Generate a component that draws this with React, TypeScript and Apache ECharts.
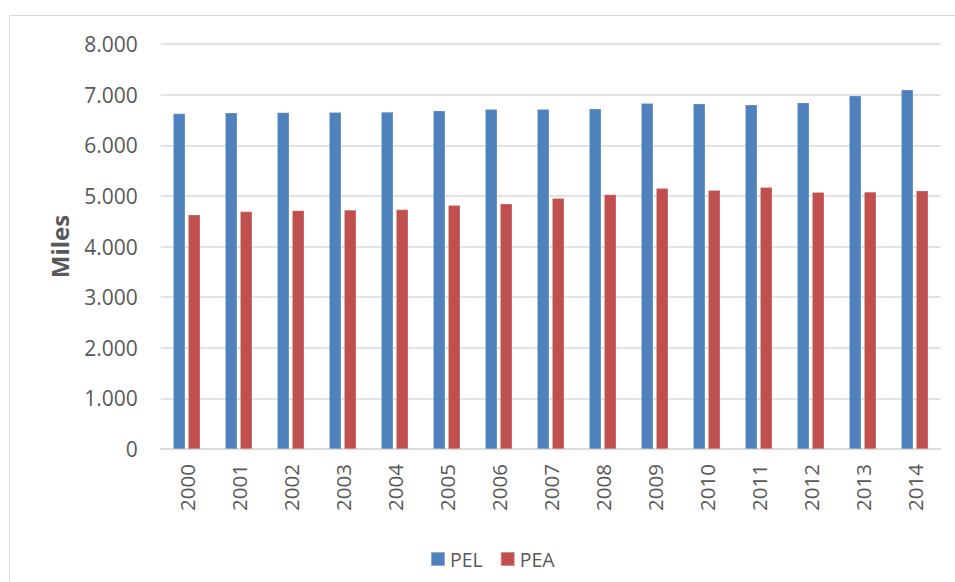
import React, { useEffect, useRef } from "react";
import * as echarts from "echarts";

const categories = ["2000", "2001", "2002", "2003", "2004", "2005", "2006", "2007", "2008", "2009", "2010", "2011", "2012", "2013", "2014"];
const pelValues = [6626, 6640, 6647, 6654, 6656, 6680, 6713, 6713, 6719, 6831, 6818, 6798, 6838, 6976, 7095];
const peaValues = [4625, 4690, 4710, 4723, 4730, 4816, 4842, 4954, 5026, 5152, 5112, 5171, 5073, 5079, 5099];
const seriesNames = ["PEL", "PEA"];

const FONT = "'Open Sans', 'Noto Sans', sans-serif";
const TEXT = "#595959";

export default function App() {
  const ref = useRef<HTMLDivElement>(null);
  useEffect(() => {
    document.body.style.margin = "0";
    if (!ref.current) return;
    const chart = echarts.init(ref.current, undefined, { renderer: "svg" });
    chart.setOption({
      animation: false,
      backgroundColor: "#ffffff",
      textStyle: { fontFamily: FONT, color: TEXT },
      graphic: [
        {
          type: "rect",
          shape: { x: 9.5, y: 15.5, width: 960, height: 580 },
          style: { fill: "none", stroke: "#d9d9d9", lineWidth: 1 },
          silent: true,
        },
      ],
      legend: {
        data: seriesNames,
        left: 425,
        top: 544,
        itemWidth: 14,
        itemHeight: 14,
        itemGap: 17,
        icon: "rect",
        textStyle: { fontFamily: FONT, fontSize: 19.5, color: TEXT },
      },
      grid: { left: 160.7, right: 14.3, top: 44, bottom: 133, containLabel: false },
      xAxis: {
        type: "category",
        data: categories,
        axisLine: { lineStyle: { color: "#d9d9d9", width: 1.5 } },
        axisTick: { show: false },
        axisLabel: {
          rotate: 90,
          margin: 15,
          fontFamily: FONT,
          fontSize: 20.5,
          color: TEXT,
          interval: 0,
        },
      },
      yAxis: {
        type: "value",
        min: 0,
        max: 8000,
        interval: 1000,
        name: "Miles",
        nameLocation: "middle",
        nameRotate: 90,
        nameGap: 89,
        nameTextStyle: { fontFamily: FONT, fontSize: 24, fontWeight: "bold", color: TEXT },
        axisLine: { show: false },
        axisTick: { show: false },
        splitLine: { lineStyle: { color: "#d9d9d9", width: 1.5 } },
        axisLabel: {
          margin: 23,
          fontFamily: FONT,
          fontSize: 21,
          color: TEXT,
          formatter: (v: number) => (v === 0 ? "0" : v.toString().replace(/\B(?=(\d{3})+(?!\d))/g, ".")),
        },
      },
      series: [
        {
          name: seriesNames[0],
          type: "bar",
          data: pelValues,
          barWidth: 12,
          barGap: "25%",
          itemStyle: { color: "#4f81bd", borderColor: "rgba(255,255,255,0.35)", borderWidth: 0.5 },
        },
        {
          name: seriesNames[1],
          type: "bar",
          data: peaValues,
          barWidth: 12,
          barGap: "25%",
          itemStyle: { color: "#c0504d", borderColor: "rgba(255,255,255,0.35)", borderWidth: 0.5 },
        },
      ],
    });
    return () => chart.dispose();
  }, []);
  return <div ref={ref} style={{ width: 955, height: 582 }} />;
}
